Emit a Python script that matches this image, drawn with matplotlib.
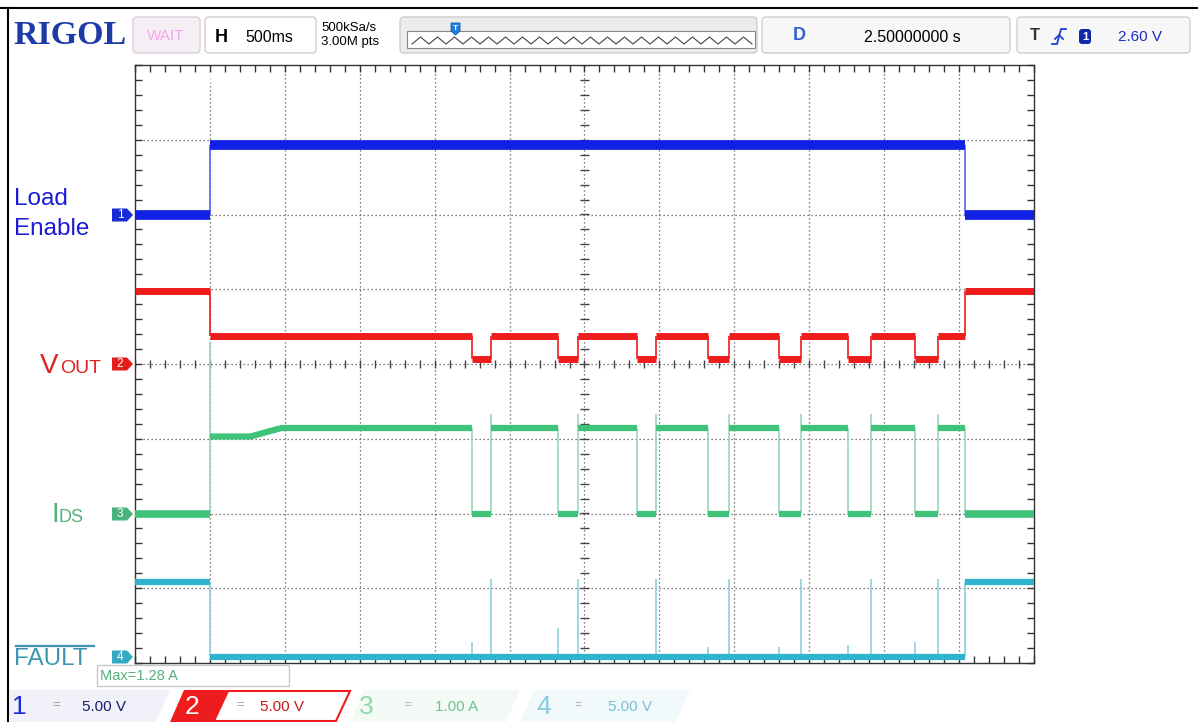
import numpy as np
import matplotlib.pyplot as plt
from matplotlib.patches import Rectangle, Polygon, FancyBboxPatch
from matplotlib.ticker import MultipleLocator

plt.rcParams['font.family'] = ['Liberation Sans', 'DejaVu Sans']

# ---- scope settings ----
time_per_div = 0.5          # 500 ms/div
delay = 2.5                 # s, centre of screen
n_hdiv, n_vdiv = 12, 8

# channel: (volts-or-amps per div, offset in div)
ch1_scale, ch1_offset = 5.0, 2.0
ch2_scale, ch2_offset = 5.0, 0.0
ch3_scale, ch3_offset = 1.0, -2.0
ch4_scale, ch4_offset = 5.0, -3.92

# ---- waveform data ----
t_on = 0.0
t_off = 5.04
pulse_start = [1.747, 2.323, 2.850, 3.324, 3.798, 4.259, 4.706]
pulse_end = [1.876, 2.457, 2.977, 3.465, 3.945, 4.412, 4.860]

en_low, en_high = 0.0, 4.65                 # Load Enable, V
vout_idle, vout_on, vout_dip = 4.9, 1.9, 0.35   # VOUT, V
ids_off = 0.0                               # IDS, A
ids_ramp_t = [0.0, 0.27, 0.47]
ids_ramp_a = [1.03, 1.03, 1.14]
ids_on = 1.14
ids_start_spike = 2.3
ids_edge_spike = 1.33
fault_high, fault_low = 5.0, 0.0            # FAULT, V
fault_edge_spike = 5.2
fault_small_spike = [1.0, 1.93, 0.0, 0.67, 0.67, 0.8, 1.0]

c_blue = '#1020e6'
c_red = '#ee1c1c'
c_green = '#3fc27a'
c_green_edge = '#9ad8b6'
c_cyan = '#2fb4cf'
c_cyan_edge = '#8fcfdc'

fig = plt.figure(figsize=(11.98, 7.22), dpi=100)
W, H = 1198, 722

# decoration layer in pixel coordinates
deco = fig.add_axes([0, 0, 1, 1], zorder=0)
deco.set_xlim(0, W)
deco.set_ylim(H, 0)
deco.axis('off')

# screen axes
gx0, gx1, gy0, gy1 = 135, 1034, 65, 663
ax = fig.add_axes([gx0 / W, 1 - gy1 / H, (gx1 - gx0) / W, (gy1 - gy0) / H], zorder=2)
t_min = delay - n_hdiv / 2 * time_per_div
t_max = delay + n_hdiv / 2 * time_per_div
ax.set_xlim(t_min, t_max)
ax.set_ylim(-n_vdiv / 2, n_vdiv / 2)
ax.set_facecolor('white')
for s in ax.spines.values():
    s.set_color('#333333')
    s.set_linewidth(1.0)
ax.xaxis.set_major_locator(MultipleLocator(time_per_div))
ax.xaxis.set_minor_locator(MultipleLocator(time_per_div / 5))
ax.yaxis.set_major_locator(MultipleLocator(1))
ax.yaxis.set_minor_locator(MultipleLocator(0.2))
ax.tick_params(which='both', direction='in', length=5, width=1, color='#333333',
               top=True, right=True, labelbottom=False, labelleft=False)

# dotted grid
dots = (0, (1, 2.2))
for k in range(1, n_hdiv):
    ax.axvline(t_min + k * time_per_div, color='#555555', lw=0.9, ls=dots, zorder=1)
for k in range(1, n_vdiv):
    ax.axhline(-n_vdiv / 2 + k, color='#555555', lw=0.9, ls=dots, zorder=1)
# centre crosshair ticks
xt = np.arange(t_min, t_max + 1e-9, time_per_div / 5)
ax.vlines(xt, -0.05, 0.05, color='#444444', lw=1, zorder=1)
yt = np.arange(-n_vdiv / 2, n_vdiv / 2 + 1e-9, 0.2)
ax.hlines(yt, delay - 0.03, delay + 0.03, color='#444444', lw=1, zorder=1)


def scr(v, scale, offset):
    return np.asarray(v, dtype=float) / scale + offset


def steps(levels_t, levels_v, scale, offset, color, lw):
    # levels_t: boundaries, levels_v: value between boundaries
    y = scr(levels_v, scale, offset)
    ax.hlines(y, levels_t[:-1], levels_t[1:], color=color, lw=lw,
              capstyle='butt', zorder=3)


def edges(ts, v0, v1, scale, offset, color):
    ax.vlines(ts, scr(v0, scale, offset), scr(v1, scale, offset),
              color=color, lw=1.2, zorder=2.5)


# CH1 Load Enable
steps([t_min, t_on, t_off, t_max], [en_low, en_high, en_low], ch1_scale, ch1_offset, c_blue, 7)
edges([t_on, t_off], [en_low] * 2, [en_high] * 2, ch1_scale, ch1_offset, '#5a62f0')

# CH2 VOUT
bt = [t_min, t_on]
bv = [vout_idle]
for s, e in zip(pulse_start, pulse_end):
    bt += [s, e]
    bv += [vout_on, vout_dip]
bt += [t_off, t_max]
bv += [vout_on, vout_idle]
steps(bt, bv, ch2_scale, ch2_offset, c_red, 5)
edges([t_on] + pulse_start + pulse_end + [t_off],
      [vout_on] * 16, [vout_idle] + [vout_on] * 14 + [vout_idle],
      ch2_scale, ch2_offset, c_red)
edges(pulse_start + pulse_end, [vout_dip] * 14, [vout_on] * 14, ch2_scale, ch2_offset, c_red)

# CH3 IDS
ax.plot(ids_ramp_t, scr(ids_ramp_a, ch3_scale, ch3_offset), color=c_green, lw=4.5,
        solid_capstyle='butt', zorder=3)
gt = [ids_ramp_t[-1]]
gv = []
for s, e in zip(pulse_start, pulse_end):
    gt += [s, e]
    gv += [ids_on, ids_off]
gt += [t_off]
gv += [ids_on]
steps(gt, gv, ch3_scale, ch3_offset, c_green, 4.5)
steps([t_min, t_on], [ids_off], ch3_scale, ch3_offset, c_green, 5.5)
steps([t_off, t_max], [ids_off], ch3_scale, ch3_offset, c_green, 5.5)
edges([t_on], [ids_off], [ids_start_spike], ch3_scale, ch3_offset, c_green_edge)
edges(pulse_start + [t_off], [ids_off] * 8, [ids_on] * 8, ch3_scale, ch3_offset, c_green_edge)
edges(pulse_end, [ids_off] * 7, [ids_edge_spike] * 7, ch3_scale, ch3_offset, c_green_edge)

# CH4 FAULT
steps([t_min, t_on, t_off, t_max], [fault_high, fault_low, fault_high],
      ch4_scale, ch4_offset, c_cyan, 4.5)
edges([t_on, t_off], [fault_low] * 2, [fault_high] * 2, ch4_scale, ch4_offset, c_cyan_edge)
edges(pulse_end, [fault_low] * 7, [fault_edge_spike] * 7, ch4_scale, ch4_offset, c_cyan_edge)
edges(pulse_start, [fault_low] * 7, fault_small_spike, ch4_scale, ch4_offset, c_cyan_edge)

# trigger marker at top
tx = gx0 + (0 - t_min) / time_per_div * (gx1 - gx0) / n_hdiv
deco.add_patch(Polygon([[tx - 6.5, 71], [tx + 6.5, 71], [tx + 6.5, 85], [tx, 92], [tx - 6.5, 85]],
                       closed=True, fc='#1e7fe0', ec='#0c5aa8', lw=0.8, zorder=5))
fig.text(tx / W, 1 - 80 / H, 'T', color='white', fontsize=9, fontweight='bold',
         ha='center', va='center', zorder=6)

# ---- window frame ----
deco.plot([0, W], [8, 8], color='black', lw=1.5)
deco.plot([8, 8], [8, H], color='black', lw=1.5)

# ---- top bar ----
fig.text(13 / W, 1 - 36 / H, 'RIGOL', family='Liberation Serif', fontweight='bold',
         fontsize=24.5, color='#1c3aa8', va='center')


def box(x0, y0, x1, y1, fc='#fbfbfb', ec='#cfcfcf'):
    deco.add_patch(FancyBboxPatch((x0, y0), x1 - x0, y1 - y0,
                                  boxstyle='round,pad=0,rounding_size=4',
                                  fc=fc, ec=ec, lw=1))


box(133, 17, 200, 53, fc='#f5eff5', ec='#d8d0d8')
fig.text(166 / W, 1 - 36 / H, 'WAIT', color='#f2a6e8', fontsize=11, ha='center', va='center')
box(205, 17, 316, 53, fc='white')
fig.text(215 / W, 1 - 37 / H, 'H', color='black', fontsize=13, fontweight='bold', va='center')
fig.text(245 / W, 1 - 37 / H, '500ms', color='black', fontsize=11.5, va='center')
fig.text(321 / W, 1 - 28 / H, '500kSa/s', color='black', fontsize=9.5, va='center')
fig.text(321 / W, 1 - 42 / H, '3.00M pts', color='black', fontsize=9.5, va='center')

box(400, 17, 757, 53, fc='#ececec', ec='#cccccc')
deco.add_patch(Rectangle((407, 31), 348, 17, fc='white', ec='#888888', lw=0.8))
zz_x = np.linspace(412, 752, 41)
zz_y = np.where(np.arange(41) % 2 == 0, 44, 37)
deco.plot(zz_x, zz_y, color='#444444', lw=0.8)
deco.add_patch(Polygon([[451, 23], [460, 23], [460, 31], [455.5, 35], [451, 31]],
                       closed=True, fc='#1e7fe0', ec='#0c5aa8', lw=0.6))
fig.text(455.5 / W, 1 - 28 / H, 'T', color='white', fontsize=6, fontweight='bold',
         ha='center', va='center')

box(762, 17, 1010, 53, fc='#f7f7f7', ec='#cfcfcf')
fig.text(793 / W, 1 - 36 / H, 'D', color='#2f5fd0', fontsize=13, fontweight='bold', va='center')
fig.text(912 / W, 1 - 37 / H, '2.50000000 s', color='black', fontsize=11.5,
         ha='center', va='center')

box(1017, 17, 1190, 53, fc='#f7f7f7', ec='#cfcfcf')
fig.text(1030 / W, 1 - 36 / H, 'T', color='#333333', fontsize=12, fontweight='bold', va='center')
# rising-edge trigger symbol
deco.plot([1052, 1057, 1061, 1066], [44, 44, 29, 29], color='#2040d0', lw=1.3)
deco.plot([1055, 1059, 1063], [39, 35, 39], color='#2040d0', lw=1.3)
deco.add_patch(FancyBboxPatch((1079, 29), 12, 15, boxstyle='round,pad=0,rounding_size=3',
                              fc='#1028a8', ec='none'))
fig.text(1085 / W, 1 - 36.5 / H, '1', color='white', fontsize=8, fontweight='bold',
         ha='center', va='center')
fig.text(1118 / W, 1 - 37 / H, '2.60 V', color='#1c2cc0', fontsize=11, va='center')

# ---- left channel labels ----
fig.text(14 / W, 1 - 199 / H, 'Load', color='#1a1ad8', fontsize=17.5, va='center')
fig.text(14 / W, 1 - 229 / H, 'Enable', color='#1a1ad8', fontsize=17.5, va='center')
fig.text(40 / W, 1 - 373 / H, 'V', color='#e02020', fontsize=20, va='baseline')
fig.text(60 / W, 1 - 373 / H, 'OUT', color='#e02020', fontsize=14, va='baseline')
fig.text(51 / W, 1 - 522 / H, 'I', color='#52b27c', fontsize=20, va='baseline')
fig.text(58 / W, 1 - 522 / H, 'DS', color='#52b27c', fontsize=13, va='baseline')
fig.text(14 / W, 1 - 659 / H, 'FAULT', color='#3e94b2', fontsize=17.5, va='center')
deco.plot([16, 94], [646, 646], color='#3e94b2', lw=1.6)

# channel markers
for num, ypix, col in [('1', 215, '#1a2bd6'), ('2', 364, '#e41c1c'),
                       ('3', 514, '#4ab27c'), ('4', 657, '#35a9c2')]:
    deco.add_patch(Polygon([[112, ypix - 6.5], [127, ypix - 6.5], [133, ypix],
                            [127, ypix + 6.5], [112, ypix + 6.5]],
                           closed=True, fc=col, ec='none', zorder=5))
    fig.text(120 / W, 1 - ypix / H, num, color='white', fontsize=8.5,
             ha='center', va='center', zorder=6)

# ---- measurement box ----
deco.add_patch(Rectangle((97, 665), 192, 21, fc='white', ec='#c8c8c8', lw=1, zorder=5))
fig.text(100 / W, 1 - 676 / H, 'Max=1.28 A', color='#58b07a', fontsize=10.5, va='center',
         zorder=6)

# ---- bottom channel bar ----
deco.add_patch(Polygon([[10, 722], [10, 690], [170, 690], [156, 722]], closed=True,
                       fc='#f1f1fa', ec='none'))
deco.add_patch(Polygon([[170, 722], [184, 690], [228, 690], [214, 722]], closed=True,
                       fc='#ee1c1c', ec='none'))
deco.add_patch(Polygon([[214, 721], [228, 691], [350, 691], [336, 721]], closed=True,
                       fc='white', ec='#ee1c1c', lw=1.5))
deco.add_patch(Polygon([[350, 722], [364, 690], [520, 690], [506, 722]], closed=True,
                       fc='#f3faf5', ec='none'))
deco.add_patch(Polygon([[520, 722], [534, 690], [690, 690], [676, 722]], closed=True,
                       fc='#f2f9fb', ec='none'))

fig.text(12 / W, 1 - 707 / H, '1', color='#1a2bd6', fontsize=19, va='center')
fig.text(52 / W, 1 - 705 / H, '=', color='#9a9a9a', fontsize=9, va='center')
fig.text(82 / W, 1 - 707 / H, '5.00 V', color='#1a1a6a', fontsize=11, va='center')
fig.text(192 / W, 1 - 707 / H, '2', color='white', fontsize=19, ha='center', va='center')
fig.text(236 / W, 1 - 705 / H, '=', color='#9a9a9a', fontsize=9, va='center')
fig.text(260 / W, 1 - 707 / H, '5.00 V', color='#c81818', fontsize=11, va='center')
fig.text(359 / W, 1 - 707 / H, '3', color='#90d8ac', fontsize=19, va='center')
fig.text(404 / W, 1 - 705 / H, '=', color='#aaaaaa', fontsize=9, va='center')
fig.text(435 / W, 1 - 707 / H, '1.00 A', color='#6fbf90', fontsize=11, va='center')
fig.text(536 / W, 1 - 707 / H, '4', color='#86cbe0', fontsize=19, va='center')
fig.text(574 / W, 1 - 705 / H, '=', color='#aaaaaa', fontsize=9, va='center')
fig.text(608 / W, 1 - 707 / H, '5.00 V', color='#7abfd2', fontsize=11, va='center')

fig.savefig('out.png', dpi=100)
